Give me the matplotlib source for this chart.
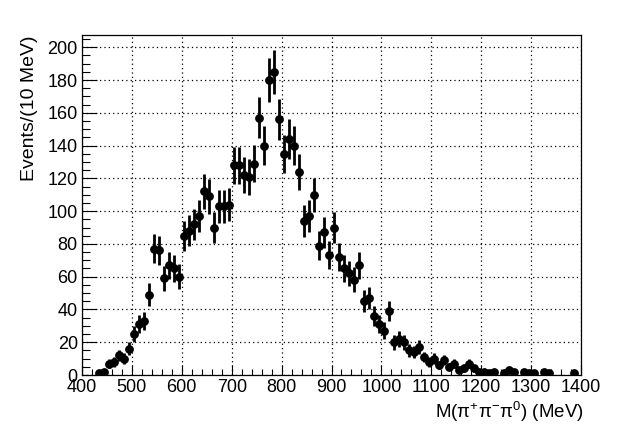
import numpy as np
import matplotlib
matplotlib.use('Agg')
import matplotlib.pyplot as plt
from matplotlib.ticker import MultipleLocator

matplotlib.rcParams['font.family'] = ['Liberation Sans', 'DejaVu Sans']
matplotlib.rcParams['font.size'] = 13
matplotlib.rcParams['mathtext.default'] = 'regular'

# 10 MeV bins from 400 to 1400 MeV, centres
bin_lo = 400
bin_w = 10
counts = [0, 0, 0, 1, 2, 7, 8, 12, 10, 16,
          25, 31, 33, 49, 77, 76, 59, 67, 65, 60,
          85, 88, 92, 97, 112, 109, 90, 103, 103, 104,
          128, 128, 122, 121, 129, 157, 140, 180, 185, 156,
          135, 144, 140, 124, 94, 97, 110, 79, 87, 73,
          90, 72, 65, 62, 58, 67, 45, 47, 36, 31,
          27, 39, 20, 22, 20, 15, 14, 17, 11, 8,
          10, 6, 9, 5, 7, 3, 4, 7, 4, 2,
          2, 1, 2, 0, 1, 3, 2, 0, 2, 1,
          1, 0, 2, 1, 0, 0, 0, 0, 1, 0]

x_label = r'M($\pi^{+}\pi^{-}\pi^{0}$) (MeV)'
y_label = 'Events/(10 MeV)'

counts = np.array(counts, dtype=float)
centres = bin_lo + bin_w * (np.arange(len(counts)) + 0.5)
nz = counts > 0

fig = plt.figure(figsize=(6.26, 4.26), dpi=100)
ax = fig.add_axes([82/626, 51/426, 499/626, 340/426])

ax.errorbar(centres[nz], counts[nz], yerr=np.sqrt(counts[nz]), fmt='o',
            color='black', ms=5.3, elinewidth=2.0, capsize=0, zorder=3)

ax.set_xlim(400, 1400)
ax.set_ylim(0, 207.5)
ax.xaxis.set_major_locator(MultipleLocator(100))
ax.xaxis.set_minor_locator(MultipleLocator(20))
ax.yaxis.set_major_locator(MultipleLocator(20))
ax.yaxis.set_minor_locator(MultipleLocator(5))

ax.grid(True, which='major', linestyle=(0, (1, 2.5)), color='black', lw=0.9)
ax.tick_params(which='both', direction='in', top=False, right=False, width=0.8)
ax.tick_params(axis='x', which='major', length=7.5, pad=3)
ax.tick_params(axis='x', which='minor', length=4)
ax.tick_params(axis='y', which='major', length=10.5, pad=3)
ax.tick_params(axis='y', which='minor', length=5.5)
for s in ax.spines.values():
    s.set_linewidth(0.9)

ax.set_xlabel(x_label, loc='right', fontsize=13.5)
ax.xaxis.set_label_coords(1.005, -0.072)
ax.set_ylabel(y_label, loc='top', fontsize=14)
ax.yaxis.set_label_coords(-0.088, 1.0)

fig.savefig('out.png', dpi=100)
